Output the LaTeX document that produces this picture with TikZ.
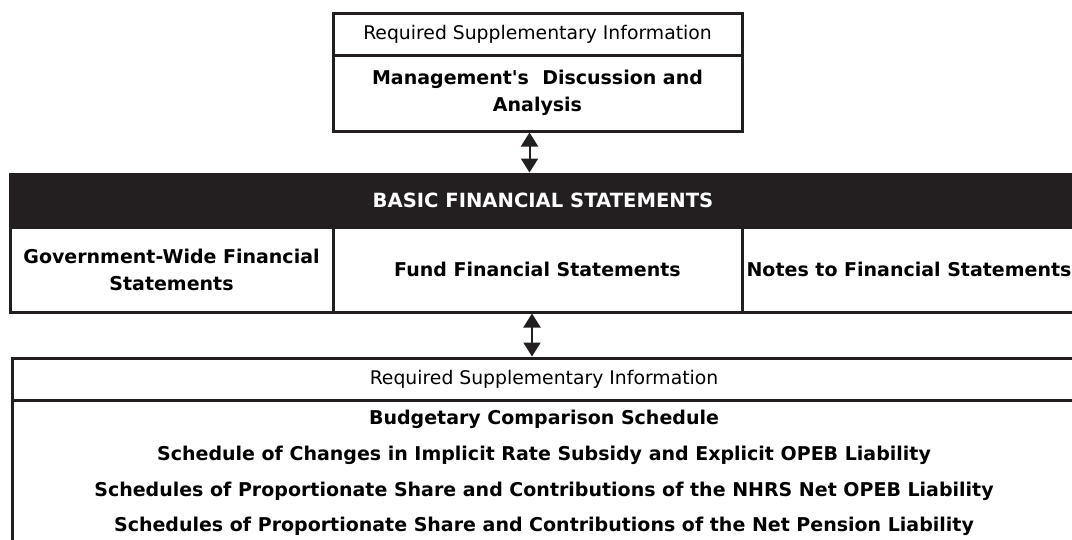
\documentclass[tikz,border=0pt]{standalone}
\usepackage{fontspec}
\setmainfont{DejaVu Sans}
\usetikzlibrary{arrows.meta}
\definecolor{inkdark}{RGB}{35,31,32}

\tikzset{
  cell/.style={draw=inkdark,line width=3pt,rectangle,inner sep=0pt,align=center,font=\fontsize{19}{27}\selectfont\bfseries},
  plaincell/.style={cell,font=\fontsize{18.8}{27}\selectfont},
  schedline/.style={inner sep=0pt,font=\fontsize{19}{27}\selectfont\bfseries},
  dbl/.style={{Triangle[width=17pt,length=14pt]}-{Triangle[width=17pt,length=14pt]},line width=2pt,draw=inkdark,fill=inkdark}
}

\begin{document}
\begin{tikzpicture}[x=1pt,y=-1pt]
  \clip (0,0) rectangle (1072,539);
  \fill[white] (0,0) rectangle (1072,539);
		% top block
		\node[plaincell,minimum width=409pt,minimum height=42pt] (rsitop) at (537.5,34) {Required Supplementary Information};
		\node[cell,minimum width=409pt,minimum height=76pt] (mda) at (537.5,93) {Management\textquotesingle s\ \ Discussion and\\Analysis};
		% basic statements
		\node[cell,fill=inkdark,text=white,minimum width=1066pt,minimum height=53pt,font=\fontsize{19.6}{27}\selectfont\bfseries] (basic) at (543,200.5) {BASIC FINANCIAL STATEMENTS};
		\node[cell,minimum width=323pt,minimum height=85pt] (gwide) at (171.5,269.5) {Government-Wide Financial\\Statements};
		\node[cell,minimum width=409pt,minimum height=85pt] (fund) at (537.5,269.5) {Fund Financial Statements};
		\node[cell,minimum width=334pt,minimum height=85pt] (notes) at (909,269.5) {Notes to Financial Statements};
		% bottom block
		\node[plaincell,minimum width=1064pt,minimum height=42pt] (rsibot) at (544,379) {Required Supplementary Information};
		\node[cell,minimum width=1064pt,minimum height=170pt] (sched) at (544,485) {};
		\node[schedline] (s1) at (544,419) {Budgetary Comparison Schedule};
		\node[schedline] (s2) at (544,455) {Schedule of Changes in Implicit Rate Subsidy and Explicit OPEB Liability};
		\node[schedline] (s3) at (544,491) {Schedules of Proportionate Share and Contributions of the NHRS Net OPEB Liability};
		\node[schedline] (s4) at (544,526) {Schedules of Proportionate Share and Contributions of the Net Pension Liability};
		% arrows
		\draw[dbl] ([xshift=-8pt]mda.south) -- ([xshift=-8pt]mda.south |- basic.north);
		\draw[dbl] ([xshift=-5.5pt]fund.south) -- ([xshift=-5.5pt]fund.south |- rsibot.north);
	\end{tikzpicture}
\end{document}
